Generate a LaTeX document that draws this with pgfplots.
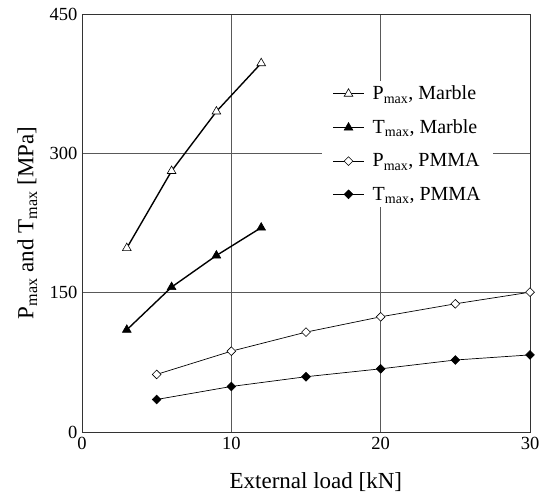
\documentclass[border=0pt]{standalone}
\usepackage{fontspec}
\setmainfont{Liberation Serif}
\usepackage{pgfplots}
\pgfplotsset{compat=1.18}

\pgfplotsset{leg/.style={legend image code/.code={%
  \draw[mark repeat=2,mark phase=2] plot coordinates {(0bp,0bp)(15.5bp,0bp)(31bp,0bp)};}}}

\begin{document}
\begin{tikzpicture}
\begin{axis}[name=ax,
  scale only axis, width=448bp, height=418bp,
  xmin=0, xmax=30, ymin=0, ymax=450,
  xtick={0,10,20,30}, ytick={0,150,300,450},
  major tick length=0pt,
  grid=major, major grid style={black!65, line width=0.7pt},
  axis line style={black!80, line width=0.8pt},
  /pgf/number format/assume math mode=true,
  ticklabel style={font=\fontsize{18.5bp}{22bp}\selectfont},
  xticklabel style={yshift=-2bp},
  yticklabel style={xshift=-1bp},
  xlabel={External load [kN]},
  ylabel={P\textsubscript{max} and T\textsubscript{max} [MPa]},
  label style={font=\fontsize{23bp}{27bp}\selectfont},
  xlabel style={at={(axis description cs:0.522,-0.12)}, anchor=center},
  ylabel style={at={(axis description cs:-0.122,0.5)}, anchor=center},
  legend style={at={(rel axis cs:0.536,0.84)}, anchor=north west,
    draw=none, fill=white, inner xsep=10bp, inner ysep=3bp,
    font=\fontsize{20bp}{24bp}\selectfont, row sep=14.5bp, column sep=6bp},
  legend cell align=left,
]
\addplot[leg, black, line width=1.4pt, mark=triangle*, mark size=5bp,
  mark options={fill=white, line width=0.6pt}] coordinates {
  (3,198) (6,281) (9,345) (12,397)};
\addlegendentry{P\textsubscript{max}, Marble}
\addplot[leg, black, line width=1.4pt, mark=triangle*, mark size=5bp,
  mark options={fill=black, line width=0.6pt}] coordinates {
  (3,110) (6,156) (9,190) (12,220)};
\addlegendentry{T\textsubscript{max}, Marble}
\addplot[leg, black, line width=0.7pt, mark=square*, mark size=3.1bp,
  mark options={fill=white, rotate=45, line width=0.6pt}] coordinates {
  (5,62) (10,87) (15,107.5) (20,124) (25,138) (30,150.5)};
\addlegendentry{P\textsubscript{max}, PMMA}
\addplot[leg, black, line width=0.7pt, mark=square*, mark size=3.1bp,
  mark options={fill=black, rotate=45, line width=0.6pt}] coordinates {
  (5,35) (10,49) (15,59.5) (20,68) (25,77.5) (30,83)};
\addlegendentry{T\textsubscript{max}, PMMA}
\end{axis}
\pgfresetboundingbox
\path[use as bounding box] (ax.south west) ++(-82bp,-64bp) rectangle ([xshift=9bp,yshift=14bp]ax.north east);
\end{tikzpicture}
\end{document}
